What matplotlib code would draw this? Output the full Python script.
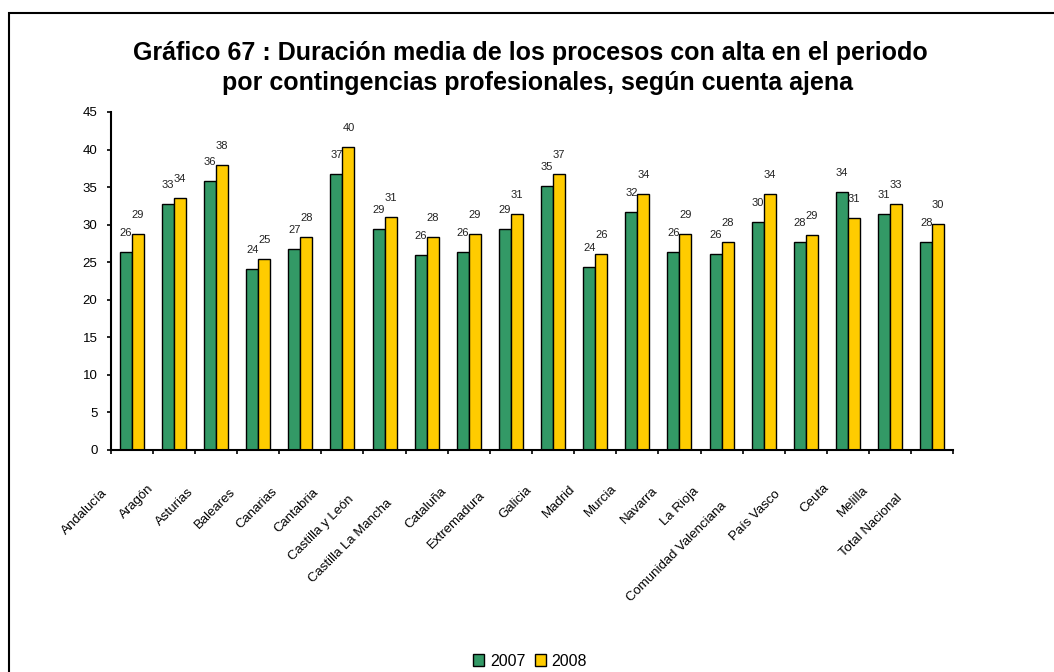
import matplotlib
matplotlib.use("Agg")
import numpy as np
import matplotlib.pyplot as plt
from matplotlib import font_manager
from matplotlib.patches import Rectangle, Patch
from matplotlib.transforms import offset_copy

plt.rcParams["font.family"] = ["Liberation Sans", "DejaVu Sans"]

# %% data
regions = ["Andalucía", "Aragón", "Asturias", "Baleares", "Canarias", "Cantabria",
           "Castilla y León", "Castilla La Mancha", "Cataluña", "Extremadura", "Galicia",
           "Madrid", "Murcia", "Navarra", "La Rioja", "Comunidad Valenciana",
           "País Vasco", "Ceuta", "Melilla", "Total Nacional"]
dur_2007 = [26.4, 32.8, 35.8, 24.1, 26.7, 36.8, 29.4, 25.9, 26.4, 29.4,
            35.2, 24.4, 31.7, 26.4, 26.1, 30.4, 27.7, 34.4, 31.4, 27.7]
dur_2008 = [28.8, 33.6, 37.9, 25.4, 28.4, 40.4, 31.0, 28.3, 28.8, 31.4,
            36.8, 26.1, 34.1, 28.8, 27.7, 34.1, 28.6, 30.9, 32.8, 30.1]
years = ["2007", "2008"]
colors = ["#339966", "#FFCC00"]

title1 = "Gráfico 67 : Duración media de los procesos con alta en el periodo"
title2 = "por contingencias profesionales, según cuenta ajena"

# narrow font for the category labels if there is one
try:
    font_manager.findfont(font_manager.FontProperties(family="Liberation Sans Narrow"),
                          fallback_to_default=False)
    xfam, xsize = "Liberation Sans Narrow", 11
except Exception:
    xfam, xsize = "Liberation Sans", 9.5

# %% plot
W, H = 1054, 672
fig = plt.figure(figsize=(W / 100, H / 100), dpi=100)
ax = fig.add_axes([110.7 / W, 1 - 450 / H, (953.3 - 110.7) / W, (450 - 112) / H])

x = np.arange(len(regions))
w = 0.285
b1 = ax.bar(x - w / 2, dur_2007, w, color=colors[0], edgecolor="black", linewidth=1.0)
b2 = ax.bar(x + w / 2, dur_2008, w, color=colors[1], edgecolor="black", linewidth=1.0)

for xs, vals in [(x - w / 2, dur_2007), (x + w / 2, dur_2008)]:
    for xi, v in zip(xs, vals):
        ax.annotate(f"{v:.0f}", (xi, v), xytext=(0, 13.7), textcoords="offset points",
                    ha="center", va="center", fontsize=8, color="#222222")

ax.set_xlim(-0.5, len(regions) - 0.5)
ax.set_ylim(0, 45)
ax.set_yticks(range(0, 46, 5))
ax.set_xticks(np.arange(len(regions) + 1) - 0.5)
ax.set_xticklabels([])
ax.tick_params(axis="both", direction="out", length=3, width=1.2, labelsize=9.5)
ax.tick_params(axis="y", pad=6.5)
for s in ["top", "right"]:
    ax.spines[s].set_visible(False)
for s in ["left", "bottom"]:
    ax.spines[s].set_linewidth(1.5)

# rotated category labels
for i, name in enumerate(regions):
    t = 11 + 1.2 * len(name)
    tr = offset_copy(ax.get_xaxis_transform(), fig=fig, x=-(t + 4), y=-(19 + t), units="dots")
    ax.text(i, 0, name, transform=tr, rotation=45, rotation_mode="anchor",
            ha="right", va="center", fontsize=xsize, family=xfam)

fig.text(530 / W, 1 - 53 / H, title1, ha="center", va="center", fontsize=18, fontweight="bold")
fig.text(538 / W, 1 - 83 / H, title2, ha="center", va="center", fontsize=18, fontweight="bold")

handles = [Patch(facecolor=c, edgecolor="black", linewidth=1.0) for c in colors]
fig.legend(handles, years, loc="center", bbox_to_anchor=(530 / W, 1 - 661 / H), ncol=2,
           frameon=False, fontsize=11.5, handlelength=0.7, handleheight=0.7,
           handletextpad=0.35, columnspacing=0.6)

fig.add_artist(Rectangle((9 / W, -0.1), 1.2, (H - 13) / H + 0.1, transform=fig.transFigure,
                         fill=False, edgecolor="black", linewidth=1.5))

fig.savefig("out.png", dpi=100)
